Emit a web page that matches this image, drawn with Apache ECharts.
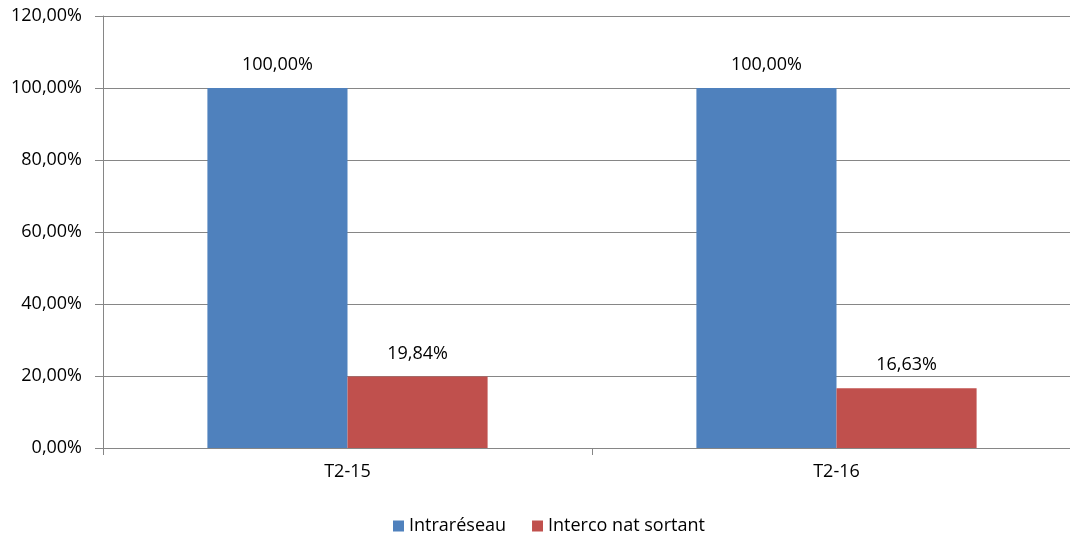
<!DOCTYPE html>
<html>
<head>
<meta charset="utf-8">
<script src="https://cdn.jsdelivr.net/npm/echarts@6/dist/echarts.min.js"></script>
<style>
  html, body { margin: 0; padding: 0; background: #fff; }
  #chart { width: 1070px; height: 539px; }
</style>
</head>
<body>
<div id="chart"></div>
<script>
// données
var categories = ["T2-15", "T2-16"];
var intrareseau = [100.00, 100.00];
var intercoNatSortant = [19.84, 16.63];
var yTicks = [0, 20, 40, 60, 80, 100, 120];

var font = "'Open Sans', 'Noto Sans', sans-serif";
function fmt(v) {
  return v.toFixed(2).replace(".", ",") + "%";
}

var chart = echarts.init(document.getElementById("chart"));
chart.setOption({
  animation: false,
  textStyle: { fontFamily: font },
  grid: { left: 103, width: 978, top: 16, bottom: 91, outerBoundsMode: "none" },
  legend: {
    top: 512,
    left: 388,
    itemWidth: 11,
    itemHeight: 11,
    itemGap: 26,
    icon: "rect",
    textStyle: { fontSize: 18, color: "#000", fontFamily: font },
    data: ["Intraréseau", "Interco nat sortant"]
  },
  xAxis: {
    type: "category",
    data: categories,
    axisLine: { lineStyle: { color: "#868686", width: 1 } },
    axisTick: { show: true, length: 7, lineStyle: { color: "#868686" } },
    axisLabel: { color: "#000", fontSize: 18, margin: 15, fontFamily: font }
  },
  yAxis: {
    type: "value",
    min: yTicks[0],
    max: yTicks[yTicks.length - 1],
    interval: 20,
    axisLine: { show: true, lineStyle: { color: "#868686" } },
    axisTick: { show: true, length: 8, inside: false, lineStyle: { color: "#868686" } },
    splitLine: { lineStyle: { color: "#868686", width: 1 } },
    axisLabel: {
      color: "#000",
      fontSize: 18,
      margin: 21,
      fontFamily: font,
      formatter: function (v) { return fmt(v); }
    }
  },
  series: [
    {
      name: "Intraréseau",
      type: "bar",
      data: intrareseau,
      barGap: "0%",
      barCategoryGap: "42.7%",
      itemStyle: { color: "#4F81BD" },
      label: {
        show: true,
        position: "top",
        distance: 14,
        color: "#000",
        fontSize: 18,
        fontFamily: font,
        formatter: function (p) { return fmt(p.value); }
      }
    },
    {
      name: "Interco nat sortant",
      type: "bar",
      data: intercoNatSortant,
      itemStyle: { color: "#C0504D" },
      label: {
        show: true,
        position: "top",
        distance: 14,
        color: "#000",
        fontSize: 18,
        fontFamily: font,
        formatter: function (p) { return fmt(p.value); }
      }
    }
  ]
});
</script>
</body>
</html>
